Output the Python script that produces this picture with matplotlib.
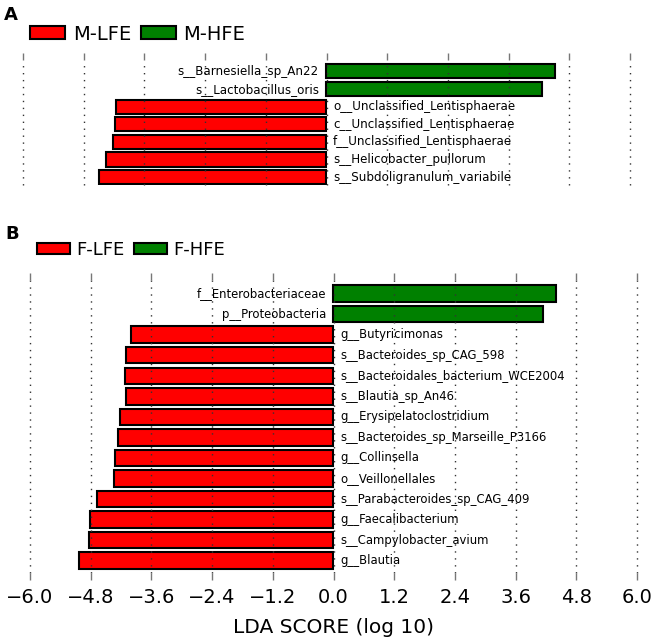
import numpy as np
import matplotlib.pyplot as plt

# Panel A (top to bottom)
a_names = ['s__Barnesiella_sp_An22', 's__Lactobacillus_oris',
           'o__Unclassified_Lentisphaerae', 'c__Unclassified_Lentisphaerae',
           'f__Unclassified_Lentisphaerae', 's__Helicobacter_pullorum',
           's__Subdoligranulum_variabile']
a_lda = [4.51, 4.27, -4.17, -4.19, -4.23, -4.35, -4.49]
a_groups = ['M-LFE', 'M-HFE']

# Panel B (top to bottom)
b_names = ['f__Enterobacteriaceae', 'p__Proteobacteria', 'g__Butyricimonas',
           's__Bacteroides_sp_CAG_598', 's__Bacteroidales_bacterium_WCE2004',
           's__Blautia_sp_An46', 'g__Erysipelatoclostridium',
           's__Bacteroides_sp_Marseille_P3166', 'g__Collinsella',
           'o__Veillonellales', 's__Parabacteroides_sp_CAG_409',
           'g__Faecalibacterium', 's__Campylobacter_avium', 'g__Blautia']
b_lda = [4.40, 4.14, -4.00, -4.10, -4.12, -4.11, -4.22, -4.27, -4.31,
         -4.34, -4.68, -4.81, -4.84, -5.03]
b_groups = ['F-LFE', 'F-HFE']

xticks = np.arange(-6.0, 6.01, 1.2)
RED, GREEN = '#ff0000', '#008000'

W, H = 664, 641
fig = plt.figure(figsize=(W / 100, H / 100), dpi=100)


def px_axes(x0, x1, ytop, ybot):
    return fig.add_axes([x0 / W, 1 - ybot / H, (x1 - x0) / W, (ybot - ytop) / H])


def lda_panel(ax, names, vals, ylim, fs, label_ticks):
    n = len(names)
    y = np.arange(n)[::-1]
    cols = [GREEN if v > 0 else RED for v in vals]
    ax.barh(y, vals, height=0.8, color=cols, edgecolor='black', linewidth=1.5)
    for yi, nm, v in zip(y, names, vals):
        if v > 0:
            ax.text(-0.15, yi, nm, ha='right', va='center', fontsize=fs)
        else:
            ax.text(0.13, yi, nm, ha='left', va='center', fontsize=fs)
    ax.set_xlim(-6, 6)
    ax.set_ylim(*ylim)
    ax.set_xticks(xticks)
    ax.set_yticks([])
    ax.set_axisbelow(False)
    ax.xaxis.grid(True, linestyle=(0, (1, 4)), color='#333333', linewidth=1)
    for gl in ax.get_xgridlines():
        gl.set_clip_on(False)
    for s in ax.spines.values():
        s.set_visible(False)
    ax.tick_params(axis='x', top=True, bottom=label_ticks, labelbottom=label_ticks,
                   direction='out', length=5, width=1, color='#777777',
                   labelsize=14, pad=6)
    if label_ticks:
        ax.set_xticklabels([f'{t:.1f}'.replace('-', '\u2212') for t in xticks])


axA = px_axes(23, 630, 60, 185)
lda_panel(axA, a_names, a_lda, (-0.45, 6.65), 8.6, False)
axB = px_axes(30, 637, 280, 573)
lda_panel(axB, b_names, b_lda, (-0.6, 13.66), 8.4, True)
axB.set_xlabel('LDA SCORE (log 10)', fontsize=14.5, labelpad=8)

# legends
for ax, grp, xl, yc, fs in [(axA, a_groups, 30, 34, 14), (axB, b_groups, 37, 250, 13)]:
    hs = [plt.Rectangle((0, 0), 1, 1, facecolor=c, edgecolor='black', linewidth=1.5)
          for c in (RED, GREEN)]
    ax.legend(hs, grp, loc='center left', bbox_to_anchor=(xl / W, 1 - yc / H),
              bbox_transform=fig.transFigure, ncol=2, frameon=False, fontsize=fs,
              handlelength=1.8, handleheight=0.6, handletextpad=0.4,
              columnspacing=0.5, borderpad=0, borderaxespad=0)

fig.text(4 / W, 1 - 6 / H, 'A', fontsize=13, fontweight='bold', va='top', ha='left')
fig.text(5 / W, 1 - 225 / H, 'B', fontsize=13, fontweight='bold', va='top', ha='left')

fig.savefig('out.png', dpi=100)
